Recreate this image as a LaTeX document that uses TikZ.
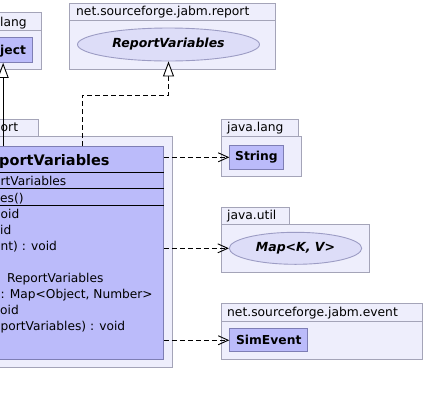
\documentclass[tikz,border=0pt]{standalone}
\usepackage{fontspec}
\setmainfont{DejaVu Sans}
\usetikzlibrary{arrows.meta,shapes.geometric}
\definecolor{pkgfill}{HTML}{EEEEFC}
\definecolor{pkgline}{HTML}{A4A4B8}
\definecolor{clsfill}{HTML}{BBBBFA}
\definecolor{clsline}{HTML}{7E7EB4}
\definecolor{ifcfill}{HTML}{DDDDF8}
\definecolor{ifcline}{HTML}{9C9CC4}
\tikzset{
  pkgbox/.style={draw=pkgline,fill=pkgfill,line width=0.9bp,anchor=north west,inner sep=0},
  clsbox/.style={draw=clsline,fill=clsfill,line width=0.9bp,anchor=north west,inner sep=0,
    font=\fontsize{12.3bp}{14bp}\selectfont\bfseries},
  ifcbox/.style={ellipse,draw=ifcline,fill=ifcfill,line width=0.9bp,inner sep=0,
    font=\fontsize{12.5bp}{14bp}\selectfont\bfseries\itshape},
  pkgname/.style={anchor=base west,inner sep=0,font=\fontsize{12.3bp}{14bp}\selectfont},
  member/.style={anchor=base west,inner sep=0,font=\fontsize{12.2bp}{14bp}\selectfont},
  inherit/.style={line width=0.9bp,-{Triangle[fill=white,length=15bp,width=11bp]}},
  realize/.style={inherit,dash pattern=on 5bp off 3bp},
  depend/.style={line width=0.9bp,dash pattern=on 5bp off 3bp,-{Straight Barb[length=10bp,width=9bp]}},
}
\begin{document}
\begin{tikzpicture}[x=1bp,y=-1bp]
  \useasboundingbox (0,0) rectangle (425,405);
  \clip (0,0) rectangle (425,405);

  % java.lang (Object)
  \node[pkgbox,minimum width=81bp,minimum height=18bp] (langtab) at (-40,12) {};
  \node[pkgbox,minimum width=81bp,minimum height=39bp] (langpkg) at (-40,30) {};
  \node[pkgname] (langname) at (0,26) {lang};
  \node[clsbox,minimum width=58.6bp,minimum height=25bp] (obj) at (-26.6,37) {};
  \node[anchor=base west,inner sep=0,font=\fontsize{12.3bp}{14bp}\selectfont\bfseries] (objname) at (0,54) {ject};

  % net.sourceforge.jabm.report (interface)
  \node[pkgbox,minimum width=206bp,minimum height=17bp] (reptab) at (69,3) {};
  \node[pkgbox,minimum width=206bp,minimum height=49bp] (reppkg) at (69,20) {};
  \node[pkgname] (repname) at (76,15.5) {net.sourceforge.jabm.report};
  \node[ifcbox,minimum width=182bp,minimum height=33bp] (rv) at (168.5,44.5) {ReportVariables};

  % report package with the class
  \node[pkgbox,minimum width=58bp,minimum height=16.7bp] (maintab) at (-20,119.3) {};
  \node[pkgbox,minimum width=192bp,minimum height=231bp] (mainpkg) at (-20,136) {};
  \node[pkgname] (mainname) at (0.5,131) {ort};
  \node[clsbox,minimum width=183bp,minimum height=213bp] (cls) at (-20,146) {};
  \draw[line width=0.9bp] (-20,172) -- (cls.east |- 0,172);
  \draw[line width=0.9bp] (-20,188.7) -- (cls.east |- 0,188.7);
  \draw[line width=0.9bp] (-20,205.7) -- (cls.east |- 0,205.7);
  \node[anchor=base west,inner sep=0,font=\fontsize{14.5bp}{17bp}\selectfont\bfseries] (clsname) at (-1,165) {portVariables};
  \node[member] (m1) at (0.5,185) {rtVariables};
  \node[member] (m2) at (0,202) {es()};
  \node[member] (m3) at (0.5,218.3) {oid};
  \node[member] (m4) at (0,234.3) {id};
  \node[member] (m5) at (0.5,250.5) {nt) : void};
  \node[member] (m6) at (7,282) {ReportVariables};
  \node[member] (m7) at (0.5,298.3) {: Map<Object, Number>};
  \node[member] (m8) at (0,314.5) {oid};
  \node[member] (m9) at (0.5,330.5) {portVariables) : void};

  % java.lang (String)
  \node[pkgbox,minimum width=76.7bp,minimum height=16.7bp] (jltab) at (221,119.3) {};
  \node[pkgbox,minimum width=79.7bp,minimum height=40.3bp] (jlpkg) at (221,136) {};
  \node[pkgname] (jlname) at (227,131) {java.lang};
  \node[clsbox,minimum width=53.4bp,minimum height=23.7bp] (str) at (229.3,145) {String};

  % java.util
  \node[pkgbox,minimum width=68.3bp,minimum height=17.6bp] (jutab) at (221,206.7) {};
  \node[pkgbox,minimum width=148.3bp,minimum height=48bp] (jupkg) at (221,224.3) {};
  \node[pkgname] (juname) at (227,219) {java.util};
  \node[ifcbox,minimum width=132.4bp,minimum height=32bp] (map) at (295.5,248.3) {Map<K, V>};

  % net.sourceforge.jabm.event
  \node[pkgbox,minimum width=201.3bp,minimum height=18bp] (evtab) at (221,302.7) {};
  \node[pkgbox,minimum width=201.3bp,minimum height=38.3bp] (evpkg) at (221,320.7) {};
  \node[pkgname] (evname) at (227,316) {net.sourceforge.jabm.event};
  \node[clsbox,minimum width=78bp,minimum height=23bp] (sim) at (229.3,328.3) {SimEvent};

  % generalisation and realisation
  \draw[inherit] (cls.north -| obj.south) -- (obj.south);
  \coordinate (bend) at (82,95);
  \draw[realize] (bend |- cls.north) -- (bend) -| (rv.south);

  % dependencies
  \draw[depend] (cls.east |- str.west) -- (str.west);
  \draw[depend] (cls.east |- map.west) -- (map.west);
  \draw[depend] (cls.east |- sim.west) -- (sim.west);
\end{tikzpicture}
\end{document}
